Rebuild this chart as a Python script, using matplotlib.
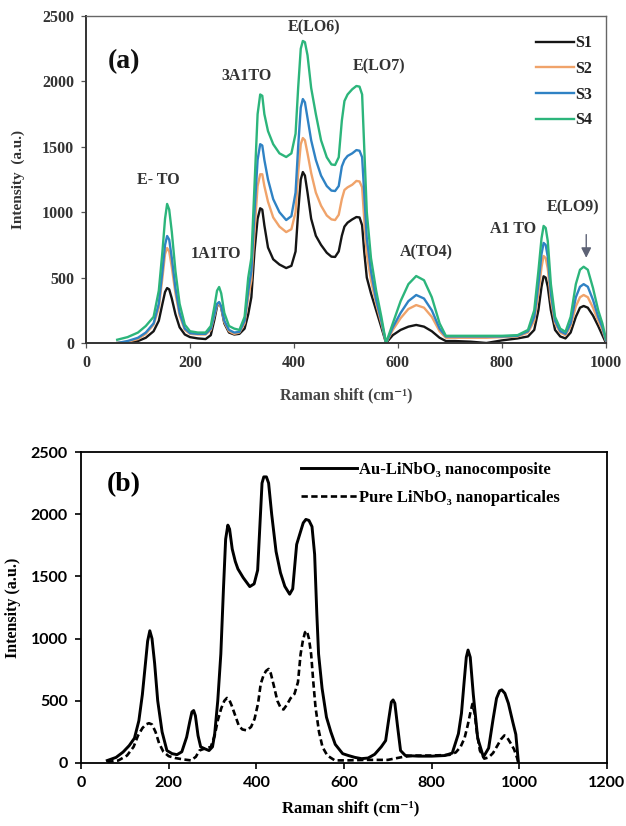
import matplotlib
matplotlib.use("Agg")
import matplotlib.pyplot as plt

# ── Panel (a): Raman spectra of samples S1..S4 ──────────────────────
SHIFT_A = [60, 80, 100, 115, 130, 140, 147, 152, 156, 160,
           165, 172, 180, 190, 200, 215, 230, 240, 247, 252,
           256, 260, 266, 275, 285, 295, 305, 312, 318, 324,
           330, 335, 339, 343, 350, 360, 372, 385, 395, 403,
           408, 413, 417, 421, 426, 433, 442, 452, 463, 472,
           479, 486, 492, 497, 503, 512, 520, 526, 531, 535,
           540, 548, 558, 568, 577, 590, 605, 620, 635, 650,
           665, 680, 692, 710, 740, 770, 800, 830, 850, 862,
           870, 876, 880, 884, 888, 894, 902, 912, 922, 932,
           942, 950, 957, 965, 975, 985, 993, 1000]
S1 = [0, 0, 15, 40, 90, 170, 300, 390, 420, 410,
      340, 220, 120, 65, 45, 35, 30, 60, 180, 280,
      305, 270, 150, 80, 65, 70, 110, 220, 350, 700,
      950, 1030, 1020, 900, 730, 640, 600, 573, 590, 700,
      1000, 1250, 1307, 1280, 1150, 950, 820, 750, 690, 660,
      658, 700, 820, 890, 920, 945, 963, 960, 900, 700,
      500, 380, 250, 120, 0, 60, 100, 125, 138, 125,
      90, 40, 15, 15, 10, 0, 20, 35, 50, 100,
      250, 430, 510, 500, 430, 250, 100, 50, 35, 80,
      200, 270, 283, 270, 210, 130, 60, 0]
S2 = [0, 10, 30, 70, 140, 270, 500, 680, 726, 700,
      580, 380, 210, 100, 70, 65, 65, 100, 210, 290,
      300, 270, 160, 90, 70, 80, 150, 350, 480, 850,
      1200, 1290, 1290, 1200, 1080, 960, 890, 848, 870, 1000,
      1300, 1520, 1567, 1550, 1450, 1300, 1150, 1050, 975, 945,
      940, 980, 1100, 1170, 1190, 1210, 1239, 1235, 1190, 950,
      680, 480, 300, 150, 0, 100, 190, 260, 290, 270,
      200, 90, 40, 40, 40, 40, 45, 50, 80, 170,
      380, 580, 665, 650, 570, 330, 150, 80, 60, 130,
      280, 350, 367, 350, 270, 170, 100, 15]
S3 = [0, 15, 40, 80, 150, 300, 550, 750, 818, 790,
      650, 420, 230, 110, 75, 70, 70, 110, 220, 300,
      313, 280, 170, 100, 80, 85, 170, 400, 550, 1000,
      1400, 1520, 1510, 1400, 1250, 1100, 1000, 940, 970, 1150,
      1500, 1800, 1865, 1840, 1720, 1550, 1400, 1280, 1200, 1165,
      1162, 1200, 1350, 1400, 1430, 1450, 1475, 1470, 1420, 1150,
      800, 550, 330, 170, 0, 120, 230, 320, 367, 340,
      250, 110, 50, 50, 50, 50, 50, 55, 90, 200,
      450, 680, 765, 750, 660, 380, 170, 90, 70, 150,
      350, 430, 450, 430, 330, 200, 120, 20]
S4 = [25, 45, 80, 130, 200, 400, 700, 950, 1063, 1020,
      850, 550, 300, 140, 90, 80, 80, 130, 280, 400,
      428, 380, 230, 130, 110, 100, 200, 500, 650, 1200,
      1750, 1900, 1890, 1750, 1620, 1520, 1450, 1422, 1450, 1600,
      1950, 2250, 2309, 2300, 2200, 1950, 1750, 1550, 1420, 1365,
      1361, 1420, 1700, 1850, 1900, 1940, 1965, 1960, 1900, 1500,
      1000, 650, 400, 200, 0, 150, 320, 450, 512, 480,
      350, 150, 55, 55, 55, 55, 55, 60, 100, 250,
      550, 800, 895, 880, 780, 450, 200, 110, 85, 200,
      450, 560, 583, 560, 420, 250, 150, 30]
SAMPLES = ["S1", "S2", "S3", "S4"]
SAMPLE_COLORS = ["#151515", "#f0a36a", "#2f82c4", "#2cb57b"]

PEAK_LABELS = ["E- TO", "1A1TO", "3A1TO", "E(LO6)", "E(LO7)", "A(TO4)",
               "A1 TO", "E(LO9)"]
PEAK_X = [140, 250, 308, 438, 563, 655, 821, 937]
PEAK_Y = [1246, 680, 2041, 2416, 2118, 696, 871, 1040]

# ── Panel (b): Au-LiNbO3 nanocomposite vs pure LiNbO3 ───────────────
SHIFT_AU = [60, 80, 96, 110, 122, 132, 140, 147, 152, 157,
            162, 168, 175, 185, 196, 208, 219, 230, 241, 248,
            253, 257, 261, 267, 273, 282, 292, 300, 305, 312,
            319, 325, 330, 335, 339, 345, 352, 358, 370, 385,
            395, 403, 408, 413, 417, 423, 428, 435, 445, 455,
            465, 476, 483, 488, 492, 500, 507, 513, 520, 527,
            533, 538, 542, 550, 560, 570, 580, 597, 610, 625,
            640, 655, 670, 685, 695, 702, 708, 712, 716, 722,
            729, 740, 770, 800, 830, 847, 861, 868, 874, 879,
            883, 888, 895, 905, 918, 930, 940, 948, 955, 960,
            967, 975, 985, 992, 998]
AU_LINBO3 = [20, 45, 88, 140, 200, 340, 550, 800, 980, 1063,
             1000, 800, 500, 250, 100, 75, 67, 90, 208, 330,
             410, 422, 380, 220, 130, 115, 100, 130, 235, 500,
             876, 1400, 1800, 1912, 1880, 1720, 1620, 1560, 1490, 1418,
             1440, 1550, 1900, 2250, 2300, 2300, 2250, 2000, 1700, 1530,
             1420, 1357, 1400, 1600, 1757, 1850, 1930, 1958, 1950, 1900,
             1677, 1200, 876, 600, 368, 250, 150, 75, 60, 45,
             35, 40, 70, 130, 180, 350, 490, 507, 480, 300,
             100, 60, 55, 55, 60, 80, 235, 400, 650, 850,
             908, 850, 550, 200, 48, 120, 350, 520, 580, 588,
             560, 480, 330, 230, 0]
SHIFT_PURE = [60, 85, 105, 120, 130, 140, 148, 155, 162, 170,
              178, 188, 200, 215, 235, 251, 262, 270, 285, 296,
              305, 312, 320, 327, 333, 338, 344, 352, 360, 368,
              378, 388, 396, 404, 410, 416, 422, 428, 433, 440,
              448, 456, 462, 470, 478, 487, 495, 501, 506, 511,
              515, 520, 525, 530, 535, 543, 551, 562, 579, 606,
              650, 700, 733, 760, 800, 840, 855, 866, 875, 882,
              888, 893, 898, 903, 910, 920, 930, 940, 950, 958,
              966, 973, 980, 988, 995, 998]
PURE_LINBO3 = [8, 20, 60, 130, 220, 280, 310, 320, 310, 250,
               160, 90, 55, 40, 28, 21, 50, 100, 120, 128,
               220, 342, 440, 500, 523, 510, 460, 380, 300, 270,
               262, 290, 355, 480, 636, 700, 740, 756, 720, 620,
               500, 440, 430, 470, 520, 555, 650, 876, 980, 1050,
               1063, 1000, 876, 650, 449, 250, 128, 60, 21, 21,
               25, 25, 48, 60, 60, 65, 85, 130, 200, 300,
               400, 475, 400, 250, 100, 35, 45, 80, 140, 190,
               222, 200, 160, 110, 40, 0]

SERIF = ["Liberation Serif", "DejaVu Serif"]
SANS = ["Lato", "DejaVu Sans"]

fig = plt.figure(figsize=(6.26, 8.26), dpi=100)

# ════════════════════════════════════════════════════════════════════
# (a)
# ════════════════════════════════════════════════════════════════════
ax = fig.add_axes([86 / 626, 1 - 343 / 826, 520 / 626, 327 / 826])
for name, vals, col in zip(SAMPLES, [S1, S2, S3, S4], SAMPLE_COLORS):
    ax.plot(SHIFT_A, vals, color=col, lw=1.7, label=name,
            solid_joinstyle="round")

ax.set_xlim(0, 1000)
ax.set_ylim(0, 2500)
ax.set_xticks(range(0, 1001, 200))
ax.set_yticks(range(0, 2501, 500))
for lab in ax.get_xticklabels() + ax.get_yticklabels():
    lab.set_family(SERIF)
    lab.set_fontweight("bold")
    lab.set_fontsize(11.5)
    lab.set_color("#333333")
ax.tick_params(direction="out", length=3.5, width=0.9, color="#555555", pad=5)
for side in ("left", "bottom"):
    ax.spines[side].set_linewidth(1.4)
    ax.spines[side].set_color("#333333")
for side in ("top", "right"):
    ax.spines[side].set_linewidth(1.0)
    ax.spines[side].set_color("#666666")

ax.set_xlabel("Raman shift (cm⁻¹)", family=SERIF, fontweight="bold",
              fontsize=11.5, color="#444444")
ax.set_ylabel("Intensity  (a.u.)", family=SERIF, fontweight="bold",
              fontsize=11, color="#333333")
ax.xaxis.set_label_coords(0.5, -0.135)
ax.yaxis.set_label_coords(-0.118, 0.5)

ax.text(42, 2148, "(a)", family=SERIF, fontweight="bold", fontsize=20,
        va="center", ha="left", color="#111111")
for lab, px, py in zip(PEAK_LABELS, PEAK_X, PEAK_Y):
    ax.text(px, py, lab, family=SERIF, fontweight="bold", fontsize=11.5,
            ha="center", va="center", color="#333333")
ax.annotate("", xy=(962, 630), xytext=(962, 850),
            arrowprops=dict(arrowstyle="-|>,head_length=0.6,head_width=0.3",
                            color="#5d6275", lw=1.0))

leg = ax.legend(loc="upper left", bbox_to_anchor=(0.853, 0.96),
                frameon=False, handlelength=2.4, handletextpad=0.05,
                labelspacing=0.6, borderaxespad=0,
                prop=dict(family=SERIF, weight="bold", size=11.5))
for t in leg.get_texts():
    t.set_color("#222222")

# ════════════════════════════════════════════════════════════════════
# (b)
# ════════════════════════════════════════════════════════════════════
bx = fig.add_axes([81 / 626, 1 - 763 / 826, 526 / 626, 311 / 826])
bx.plot(SHIFT_AU, AU_LINBO3, color="black", lw=2.1,
        label="Au-LiNbO₃ nanocomposite", solid_joinstyle="round")
bx.plot(SHIFT_PURE, PURE_LINBO3, color="black", lw=1.9,
        linestyle=(0, (2.4, 1.3)), label="Pure LiNbO₃ nanoparticales")

bx.set_xlim(0, 1200)
bx.set_ylim(0, 2500)
bx.set_xticks(range(0, 1201, 200))
bx.set_yticks(range(0, 2501, 500))
for lab in bx.get_xticklabels() + bx.get_yticklabels():
    lab.set_family(SANS)
    lab.set_fontweight("bold")
    lab.set_fontsize(11.5)
bx.tick_params(direction="out", length=4.5, width=1.2, color="black", pad=5)
for side in bx.spines:
    bx.spines[side].set_linewidth(1.3)
    bx.spines[side].set_color("black")

bx.set_xlabel("Raman shift (cm⁻¹)", family=SERIF, fontweight="bold",
              fontsize=12)
bx.set_ylabel("Intensity (a.u.)", family=SERIF, fontweight="bold",
              fontsize=11.5)
bx.xaxis.set_label_coords(0.513, -0.12)
bx.yaxis.set_label_coords(-0.114, 0.5)

bx.text(98, 2235, "(b)", family=SERIF, fontweight="bold", fontsize=20,
        va="center", ha="center")
bx.legend(loc="upper left", bbox_to_anchor=(0.405, 0.99), frameon=False,
          handlelength=3.4, handletextpad=0.1, labelspacing=0.75,
          borderaxespad=0, prop=dict(family=SERIF, weight="bold", size=12))

fig.savefig("out.png", dpi=100, facecolor="white")
